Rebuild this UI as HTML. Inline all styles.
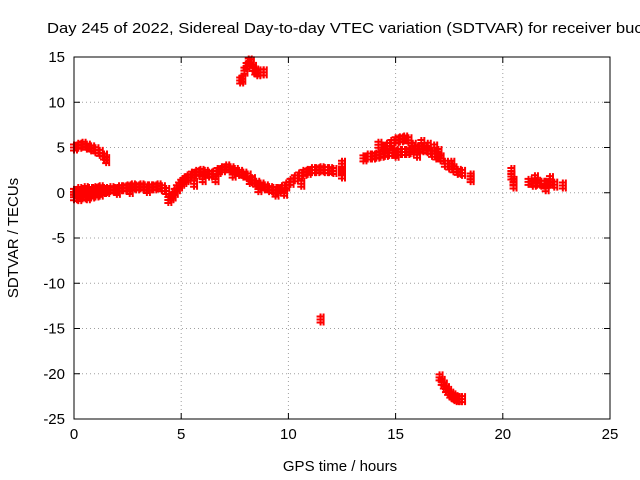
<!DOCTYPE html>
<html><head><meta charset="utf-8"><style>
body{margin:0;background:#fff;}
svg{display:block;font-family:"Liberation Sans",sans-serif;}
</style></head><body>
<svg id="chart" width="640" height="480" viewBox="0 0 640 480">
<rect width="640" height="480" fill="#fff"/>
<text x="47" y="33" font-size="15" textLength="605" lengthAdjust="spacingAndGlyphs" fill="#000">Day 245 of 2022, Sidereal Day-to-day VTEC variation (SDTVAR) for receiver bucu</text>
<g id="grid"></g>
<g id="axes"></g>
<g id="marks"></g>
<rect x="74" y="57" width="536" height="362" fill="none" stroke="#000" stroke-width="1"/>
<text x="340" y="471" font-size="15" text-anchor="middle">GPS time / hours</text>
<text transform="translate(18,238) rotate(-90)" font-size="15" text-anchor="middle">SDTVAR / TECUs</text>
</svg>
<script>
const xTicks=[0,5,10,15,20,25];
const yTicks=[15,10,5,0,-5,-10,-15,-20,-25];
const hoursMain=[0,0.1,0.2,0.3,0.4,0.5,0.6,0.7,0.8,0.9,1.0,1.1,1.2,1.3,1.4,1.5,1.7,1.9,2.1,2.3,2.5,2.7,2.9,3.1,3.3,3.5,3.7,3.9,4.1,4.3,4.5,4.6,4.7,4.8,4.9,5.0,5.1,5.2,5.3,5.5,5.7,5.9,6.1,6.3,6.5,6.7,6.9,7.1,7.3,7.5,7.7,7.9,8.1,8.3,8.5,8.7,8.9,9.1,9.3,9.5,9.7,9.9,10.1,10.3,10.5,10.7,10.9,11.1,11.3,11.5,11.7,11.9,12.1,12.5,13.5,13.7,13.9,14.1,14.3,14.5,14.7,14.9,15.1,15.3,15.5,15.7,15.9,16.1,16.3,16.5,16.7,16.9,17.1,17.3,17.5,17.7,17.9,18.1,18.5,20.4,20.5,21.2,21.4,21.6,21.8,22.0,22.2,22.4,22.8];
const valuesMain=[0.1,0.0,0.3,-0.2,0.2,0.4,0.0,0.3,-0.1,0.3,0.4,0.1,0.5,0.2,0.3,0.2,0.4,0.3,0.5,0.5,0.6,0.7,0.6,0.7,0.6,0.6,0.6,0.7,0.5,0.2,-0.5,-0.3,0.1,0.5,0.8,1.1,1.3,1.5,1.7,2.0,2.2,2.3,2.2,2.0,2.1,2.4,2.6,2.8,2.6,2.4,2.2,2.0,1.8,1.4,1.0,0.8,0.6,0.4,0.3,0.3,0.5,0.8,1.2,1.6,1.9,2.2,2.3,2.5,2.5,2.6,2.5,2.5,2.4,2.4,3.8,4.0,4.0,4.1,4.2,4.3,4.4,4.4,4.5,4.5,4.5,4.6,4.8,4.9,4.8,4.7,4.3,4.0,3.8,3.2,2.9,2.6,2.3,2.2,1.8,1.8,1.2,1.2,1.0,1.1,1.0,1.0,1.1,0.9,0.8];
const hoursLow=[0,0.2,0.4,0.6,0.8,1.0,1.2,2.0,2.6,3.4,4.4,5.6,6.0,6.6,7.4,8.2,8.6,9.4,9.8,10.6,12.5,12.5,15.0,16.0,18.5,20.5,22.0];
const valuesLow=[-0.5,-0.6,-0.4,-0.5,-0.3,-0.2,-0.1,0.1,0.2,0.3,-0.8,1.0,1.5,1.5,2.0,1.3,0.4,-0.1,0.0,1.0,1.9,3.2,4.2,4.2,1.5,0.8,0.5];
const hoursUpper=[0,0.2,0.4,0.6,0.8,1.0,1.2,1.4,1.5,14.2,14.4,14.6,14.8,15.0,15.2,15.4,15.6,15.8,16.2,16.5,16.8,17.0,12.5,20.4,17.6,21.5,22.2];
const valuesUpper=[5.0,5.2,5.3,5.1,4.9,4.7,4.4,4.0,3.6,5.3,5.0,5.2,5.5,5.8,5.9,6.0,5.8,5.2,5.5,5.2,5.0,4.5,2.9,2.4,3.2,1.6,1.5];
const hoursSpike=[7.75,7.85,7.95,8.05,8.15,8.25,8.35,8.45,8.55,8.7,8.85];
const valuesSpike=[12.4,12.6,13.5,14.0,14.5,14.4,13.8,13.4,13.2,13.3,13.3];
const hoursNeg=[11.5,17.05,17.15,17.25,17.35,17.45,17.55,17.65,17.75,17.85,17.95,18.1];
const valuesNeg=[-14.0,-20.4,-20.9,-21.3,-21.7,-22.0,-22.3,-22.5,-22.7,-22.8,-22.8,-22.8];
const NS='http://www.w3.org/2000/svg';
const X0=74,X1=610,Y0=57,Y1=419;
function xs(h){return X0+(h-0)/(25-0)*(X1-X0);}
function ys(v){return Y0+(15-v)/(15-(-25))*(Y1-Y0);}
const grid=document.getElementById('grid'),axes=document.getElementById('axes'),marks=document.getElementById('marks');
function mk(tag,attrs,parent){const e=document.createElementNS(NS,tag);for(const k in attrs)e.setAttribute(k,attrs[k]);parent.appendChild(e);return e;}
xTicks.forEach(t=>{const x=xs(t);
 if(t>0&&t<25){const g=mk('line',{x1:x,x2:x,y1:Y0,y2:Y1,stroke:'#a0a0a0','stroke-dasharray':'1,3'},grid);
 
 }
 mk('line',{x1:x,x2:x,y1:Y1,y2:Y1-6,stroke:'#000'},axes);mk('line',{x1:x,x2:x,y1:Y0,y2:Y0+6,stroke:'#000'},axes);
 const l=mk('text',{x:x,y:Y1+20,'font-size':15,'text-anchor':'middle'},axes);l.textContent=t;
 
 });
yTicks.forEach(t=>{const y=ys(t);
 if(t<15&&t>-25){const g=mk('line',{x1:X0,x2:X1,y1:y,y2:y,stroke:'#a0a0a0','stroke-dasharray':'1,3'},grid);
 
 }
 mk('line',{x1:X0,x2:X0+6,y1:y,y2:y,stroke:'#000'},axes);mk('line',{x1:X1,x2:X1-6,y1:y,y2:y,stroke:'#000'},axes);
 const l=mk('text',{x:X0-9,y:y+5,'font-size':15,'text-anchor':'end'},axes);l.textContent=t;
 
 });
function plot(hs,vs){for(let i=0;i<hs.length;i++){const x=xs(hs[i]),y=ys(vs[i]);
 const p=mk('path',{d:`M${x-4},${y-3}h8M${x-4},${y}h8M${x-4},${y+3}h8M${x},${y-6}v12M${x+3},${y-6}v12`,stroke:'#ff0000','stroke-width':2,fill:'none'},marks);
 
 }}
plot(hoursMain,valuesMain);plot(hoursLow,valuesLow);plot(hoursUpper,valuesUpper);plot(hoursSpike,valuesSpike);plot(hoursNeg,valuesNeg);
</script>
</body></html>
